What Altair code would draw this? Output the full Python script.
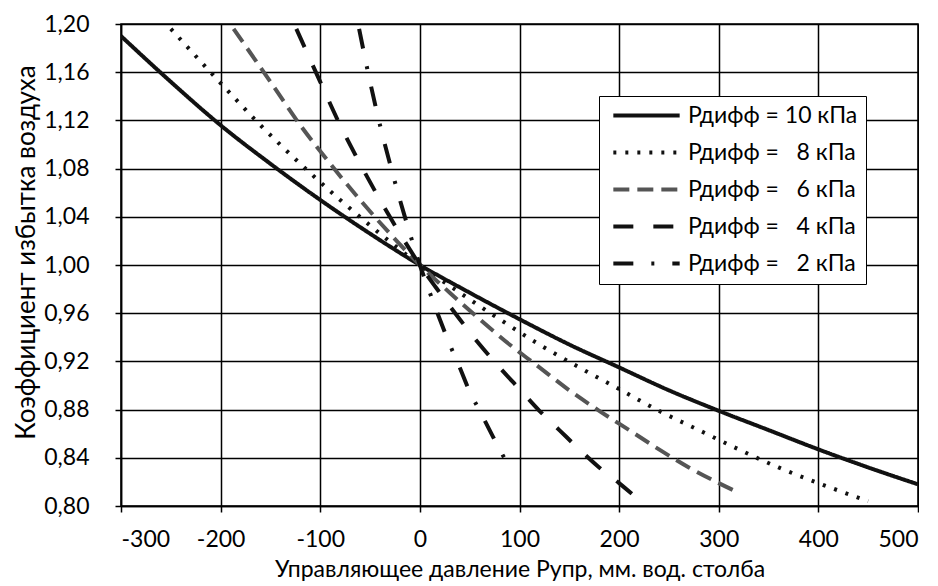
import altair as alt
import pandas as pd

# ---- data ----
labels = ["Рдифф = 10 кПа", "Рдифф = \u00a0\u00a08 кПа", "Рдифф = \u00a0\u00a06 кПа",
          "Рдифф = \u00a0\u00a04 кПа", "Рдифф = \u00a0\u00a02 кПа"]

x10 = [-300, -250, -200, -150, -100, -50, 0, 50, 100, 150, 200, 250, 300, 350, 400, 450, 500]
y10 = [1.190, 1.152, 1.116, 1.084, 1.054, 1.026, 1.000, 0.977, 0.955, 0.934, 0.915, 0.896, 0.879, 0.863, 0.847, 0.832, 0.818]

x8 = [-250, -200, -160, -120, -80, -40, 0, 40, 80, 120, 160, 200, 240, 280, 320, 360, 400, 450]
y8 = [1.196, 1.151, 1.116, 1.084, 1.054, 1.026, 1.000, 0.977, 0.955, 0.934, 0.915, 0.897, 0.879, 0.863, 0.847, 0.832, 0.819, 0.804]

x6 = [-187, -150, -120, -90, -60, -30, 0, 30, 60, 90, 120, 150, 180, 210, 240, 270, 300, 320]
y6 = [1.196, 1.152, 1.116, 1.084, 1.054, 1.026, 1.000, 0.977, 0.955, 0.934, 0.915, 0.896, 0.879, 0.863, 0.847, 0.832, 0.819, 0.811]

x4 = [-124, -100, -80, -60, -40, -20, 0, 20, 40, 60, 80, 100, 120, 140, 160, 180, 200, 220]
y4 = [1.196, 1.152, 1.116, 1.084, 1.054, 1.026, 1.000, 0.977, 0.955, 0.934, 0.915, 0.897, 0.879, 0.863, 0.847, 0.832, 0.819, 0.805]

x2 = [-61, -50, -40, -30, -20, -10, 0, 10, 20, 30, 40, 50, 60, 70, 80, 91]
y2 = [1.196, 1.152, 1.116, 1.084, 1.054, 1.026, 1.000, 0.977, 0.955, 0.934, 0.915, 0.895, 0.879, 0.863, 0.847, 0.831]

x_ticks = [-300, -200, -100, 0, 100, 200, 300, 400, 500]
y_ticks = [0.80, 0.84, 0.88, 0.92, 0.96, 1.00, 1.04, 1.08, 1.12, 1.16, 1.20]

rows = []
for lab, xs, ys in zip(labels, [x10, x8, x6, x4, x2], [y10, y8, y6, y4, y2]):
    for i, (xv, yv) in enumerate(zip(xs, ys)):
        rows.append({"series": lab, "x": xv, "y": yv, "i": i})
df = pd.DataFrame(rows)

FONT = "Lato"

chart = alt.Chart(df).mark_line(interpolate="monotone", strokeCap="butt", clip=True).encode(
    x=alt.X("x:Q", scale=alt.Scale(domain=[-300, 500], nice=False, zero=False),
            axis=alt.Axis(values=x_ticks, title="Управляющее давление Рупр, мм. вод. столба",
                          labelExpr="datum.value < 0 ? '-' + abs(datum.value) : '' + datum.value",
                          labelPadding=16, titleFontSize=23, titleY=63, titleBaseline="middle")),
    y=alt.Y("y:Q", scale=alt.Scale(domain=[0.80, 1.20], nice=False, zero=False),
            axis=alt.Axis(values=y_ticks, title="Коэффициент избытка воздуха",
                          labelExpr="replace(format(datum.value, '.2f'), '.', ',')",
                          labelPadding=26, titlePadding=4, titleFontSize=26, titleY=228)),
    order="i:Q",
    color=alt.Color("series:N", sort=labels,
                    scale=alt.Scale(domain=labels, range=["#111111", "#111111", "#555555", "#111111", "#111111"]),
                    legend=alt.Legend(title=None, orient="none", legendX=478, legendY=72,
                                      fillColor="white", strokeColor="black", padding=8,
                                      cornerRadius=0, symbolType="stroke", symbolSize=4400,
                                      symbolStrokeWidth=4, symbolOffset=4, labelFontSize=23,
                                      labelFont=FONT, labelColor="black", clipHeight=23,
                                      rowPadding=13, labelLimit=400, labelOffset=6)),
    strokeDash=alt.StrokeDash("series:N", sort=labels,
                              scale=alt.Scale(domain=labels,
                                              range=[[1, 0], [3, 9], [16, 8], [20, 20], [20, 18, 3, 18]]),
                              legend=None),
).properties(
    width=797, height=482, padding={"left": 5, "top": 5, "right": 0, "bottom": 5}
).configure_mark(strokeWidth=4).configure_view(
    stroke="black", strokeWidth=1.5
).configure_axis(
    grid=True, gridColor="black", gridWidth=1.5, gridOpacity=1,
    domainColor="black", domainWidth=1.5, tickColor="black", tickSize=6, tickWidth=1.5,
    labelFont=FONT, labelFontSize=23, labelColor="black",
    titleFont=FONT, titleColor="black", titleFontWeight="normal",
)

chart.save("out.html", embed_options={"renderer": "svg", "actions": False})
